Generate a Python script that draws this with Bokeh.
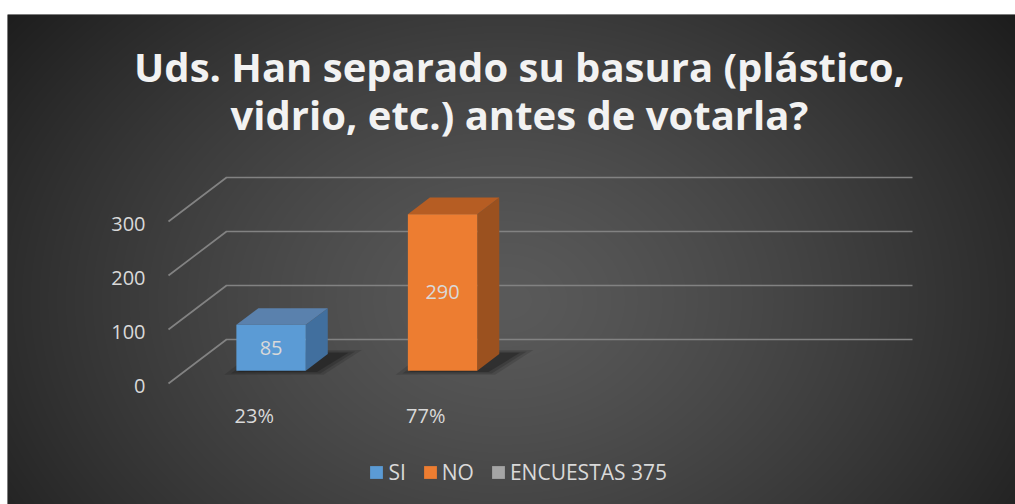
import numpy as np
from bokeh.plotting import figure
from bokeh.models import Range1d, Label, Legend, LegendItem
from bokeh.core.properties import value
from bokeh.embed import file_html
from bokeh.resources import INLINE

# ---------------- data ----------------
title_lines = ["Uds. Han separado su basura (plástico,", "vidrio, etc.) antes de votarla?"]
categories = ["23%", "77%"]
series_names = ["SI", "NO", "ENCUESTAS 375"]
bar_values = [85, 290]
bar_labels = ["85", "290"]
y_ticks = [0, 100, 200, 300]
n_slots = 4

# ---------------- styles ----------------
front_colors = ["#5b9bd5", "#ed7d31", "#a5a5a5"]
top_colors = ["#5a81ad", "#b65d23"]
side_colors = ["#416f9e", "#9b511f"]
text_color = "#d9d9d9"
FONT = "Open Sans"

# ---------------- geometry ----------------
W, H = 1015, 504
LEFT, TOP = 7, 14
PAGE_L, PAGE_T, PAGE_B, PAGE_R = LEFT, TOP, H, W
KX = 171.5     # px per category slot
X0 = 168.0     # page x of slot 0 (front plane)
KY = 0.54      # px per value unit
Y0 = 383.0     # page y of value 0 (front plane)
DX, DY = 58.0, 44.0   # full depth offset in px
T_F, T_B = 0.29, 0.29 + 22.0 / 58.0
HALF_W = 34.7 / KX

x_start = (PAGE_L - X0) / KX
x_end = (PAGE_R - X0) / KX
y_start = (Y0 - PAGE_B) / KY
y_end = (Y0 - PAGE_T) / KY


def pt(x, v, t):
    return x + t * DX / KX, v + t * DY / KY


p = figure(width=W, height=H, x_range=Range1d(x_start, x_end), y_range=Range1d(y_start, y_end),
           output_backend="svg", toolbar_location=None, x_axis_type=None, y_axis_type=None,
           min_border_left=LEFT, min_border_right=0, min_border_bottom=0, min_border_top=TOP,
           border_fill_color="white", outline_line_color=None, background_fill_color="#3a3a3a")
p.grid.visible = False

# background radial gradient
FW, FH = PAGE_R - PAGE_L, PAGE_B - PAGE_T
xs_pg = np.arange(FW) + PAGE_L + 0.5
ys_pg = PAGE_B - (np.arange(FH) + 0.5)
XX, YY = np.meshgrid(xs_pg, ys_pg)
r = np.sqrt(((XX - 505) / 560.0) ** 2 + ((YY - 300) / 420.0) ** 2)
g = np.clip(90 - 52 * np.clip(r, 0, 1.25) ** 1.3, 0, 255).astype(np.uint8)
img = np.empty((FH, FW), dtype=np.uint32)
view = img.view(dtype=np.uint8).reshape((FH, FW, 4))
view[..., 0] = g
view[..., 1] = g
view[..., 2] = g
view[..., 3] = 255
p.image_rgba(image=[img], x=x_start, y=y_start, dw=x_end - x_start, dh=y_end - y_start)

# gridlines: slanted side lines and back lines
gx, gy = [], []
for v in y_ticks:
    a = pt(0, v, 0)
    b = pt(0, v, 1)
    c = pt(n_slots, v, 1)
    gx.append([a[0], b[0], c[0]])
    gy.append([a[1], b[1], c[1]])
p.multi_line(xs=gx, ys=gy, line_color="#828282", line_width=1.7)

# shadows
for k, alpha in [(3, 0.12), (2, 0.16), (1, 0.22)]:
    sx, sy = [], []
    for i, v in enumerate(bar_values):
        c = i + 0.5
        e = 5.0 * k / KX
        sh = 8.0 / KX
        l, rr = c - HALF_W - e + sh, c + HALF_W + e + sh
        tf, tb = T_F - 0.03 * k, T_B + 0.03 * k
        pts = [pt(l, 0, tf), pt(rr, 0, tf), pt(rr + 6 / KX, 0, tb), pt(l, 0, tb)]
        sx.append([q[0] for q in pts])
        sy.append([q[1] for q in pts])
    p.patches(xs=sx, ys=sy, fill_color="black", fill_alpha=alpha, line_color=None)

# bars
renderers = []
for i, v in enumerate(bar_values):
    c = i + 0.5
    l, rr = c - HALF_W, c + HALF_W
    top = [pt(l, v, T_F), pt(rr, v, T_F), pt(rr, v, T_B), pt(l, v, T_B)]
    side = [pt(rr, 0, T_F), pt(rr, v, T_F), pt(rr, v, T_B), pt(rr, 0, T_B)]
    p.patch(x=[q[0] for q in side], y=[q[1] for q in side], fill_color=side_colors[i], line_color=None)
    p.patch(x=[q[0] for q in top], y=[q[1] for q in top], fill_color=top_colors[i], line_color=None)
    fl = pt(l, 0, T_F)
    fr = pt(rr, v, T_F)
    rend = p.quad(left=[fl[0]], right=[fr[0]], bottom=[fl[1]], top=[fr[1]],
                  fill_color=front_colors[i], line_color=None)
    renderers.append(rend)
    lx, ly = pt(c, v / 2.0, T_F)
    p.text(x=[lx], y=[ly], text=[bar_labels[i]], text_font=value(FONT), text_font_size=value("20px"),
           text_color=text_color, text_align="center", text_baseline="middle")

# third series has no bar (no values)
dummy = p.quad(left=[np.nan], right=[np.nan], bottom=[np.nan], top=[np.nan],
               fill_color=front_colors[2], line_color=None)
renderers.append(dummy)

# category labels
cx = [pt(i + 0.5, 0, 0)[0] for i in range(len(categories))]
cy = [-32.0 / KY] * len(categories)
p.text(x=cx, y=cy, text=categories, text_font=value(FONT), text_font_size=value("20px"),
       text_color=text_color, text_align="center", text_baseline="middle")

# y tick labels
tx = [-23.0 / KX] * len(y_ticks)
ty = [v - 2.0 / KY for v in y_ticks]
p.text(x=tx, y=ty, text=[str(v) for v in y_ticks], text_font=value(FONT), text_font_size=value("20px"),
       text_color=text_color, text_align="right", text_baseline="middle")

# title
for line, base in zip(title_lines, [66, 114]):
    p.add_layout(Label(x=(519 - X0) / KX, y=(Y0 - base) / KY, text=line,
                       text_font=FONT, text_font_style="bold", text_font_size="40px",
                       text_color="#f2f2f2", text_align="center", text_baseline="alphabetic"))

legend = Legend(items=[LegendItem(label=n, renderers=[r_]) for n, r_ in zip(series_names, renderers)],
                location=(370 - PAGE_L - 1.6, 18), orientation="horizontal", label_text_font=FONT,
                label_text_font_size="21px", label_text_color=text_color, glyph_width=16, glyph_height=16,
                label_standoff=4, spacing=16, padding=0, margin=0, background_fill_alpha=0,
                border_line_alpha=0, label_height=16, label_width=10)
p.add_layout(legend, "center")

open("out.html", "w").write(file_html(p, INLINE))
